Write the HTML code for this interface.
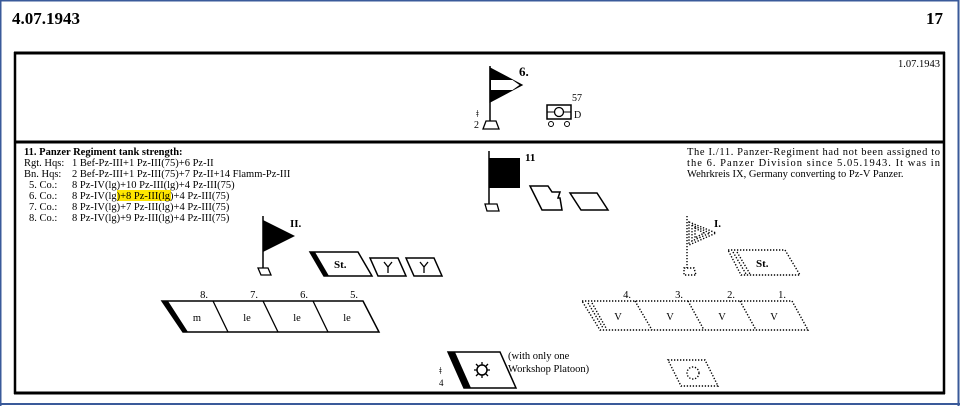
<!DOCTYPE html>
<html><head><meta charset="utf-8"><style>
html,body{margin:0;padding:0;background:#fff;}
svg{display:block;}
text{font-family:"Liberation Serif",serif;fill:#000;}
</style></head><body>
<svg width="960" height="406" viewBox="0 0 960 406" xmlns="http://www.w3.org/2000/svg">
<rect x="0" y="0" width="960" height="406" fill="#fff"/>
<rect x="0.5" y="0.5" width="958" height="420" fill="none" stroke="#3a5a9a" stroke-width="2"/>
<text x="12" y="24" font-size="17" font-weight="bold">4.07.1943</text>
<text x="943" y="24" font-size="17" font-weight="bold" text-anchor="end">17</text>
<!-- box -->
<line x1="14" y1="53" x2="945" y2="53" stroke="#000" stroke-width="3"/>
<line x1="15" y1="52" x2="15" y2="394" stroke="#000" stroke-width="2.5"/>
<line x1="944" y1="52" x2="944" y2="394" stroke="#000" stroke-width="2.5"/>
<line x1="14" y1="142" x2="945" y2="142" stroke="#000" stroke-width="3"/>
<line x1="14" y1="393" x2="945" y2="393" stroke="#000" stroke-width="3"/>
<line x1="0" y1="404" x2="960" y2="404" stroke="#3a5a9a" stroke-width="2"/>
<text x="940" y="67" font-size="10.5" text-anchor="end">1.07.1943</text>
<!-- division flag -->
<line x1="490" y1="66" x2="490" y2="124" stroke="#000" stroke-width="1.5"/>
<polygon points="490,68 522,85 490,102" fill="#000" stroke="#000" stroke-width="1.2"/>
<polygon points="491,80 512.5,80 519.5,85 512.5,90 491,90" fill="#fff"/>
<text x="519" y="76" font-size="13" font-weight="bold">6.</text>
<text x="476" y="117" font-size="11">ǂ</text>
<text x="474" y="128" font-size="10">2</text>
<polygon points="486,121 496,121 499,129 483,129" fill="#fff" stroke="#000" stroke-width="1.3"/>
<rect x="547" y="105" width="24" height="14" fill="none" stroke="#000" stroke-width="1.5"/>
<circle cx="559" cy="112" r="4.5" fill="none" stroke="#000" stroke-width="1.3"/>
<line x1="547" y1="112" x2="554" y2="112" stroke="#000"/><line x1="564" y1="112" x2="571" y2="112" stroke="#000"/>
<circle cx="551" cy="124" r="2.5" fill="none" stroke="#000"/><circle cx="567" cy="124" r="2.5" fill="none" stroke="#000"/>
<text x="572" y="101" font-size="10">57</text>
<text x="574" y="118" font-size="10">D</text>
<!-- left text -->
<g font-size="10.5">
<text x="24" y="155" font-weight="bold">11. Panzer Regiment tank strength:</text>
<text x="24" y="166">Rgt. Hqs:</text><text x="72" y="166">1 Bef-Pz-III+1 Pz-III(75)+6 Pz-II</text>
<text x="24" y="177">Bn. Hqs:</text><text x="72" y="177">2 Bef-Pz-III+1 Pz-III(75)+7 Pz-II+14 Flamm-Pz-III</text>
<text x="29" y="188">5. Co.:</text><text x="72" y="188">8 Pz-IV(lg)+10 Pz-III(lg)+4 Pz-III(75)</text>
<rect x="117" y="190" width="54" height="11" fill="#ffe600"/>
<text x="29" y="199">6. Co.:</text><text x="72" y="199">8 Pz-IV(lg)+8 Pz-III(lg)+4 Pz-III(75)</text>
<text x="29" y="210">7. Co.:</text><text x="72" y="210">8 Pz-IV(lg)+7 Pz-III(lg)+4 Pz-III(75)</text>
<text x="29" y="221">8. Co.:</text><text x="72" y="221">8 Pz-IV(lg)+9 Pz-III(lg)+4 Pz-III(75)</text>
</g>
<!-- right text -->
<g font-size="10.5">
<text x="687" y="155" textLength="253" lengthAdjust="spacing">The I./11. Panzer-Regiment had not been assigned to</text>
<text x="687" y="166" textLength="253" lengthAdjust="spacing">the 6. Panzer Division since 5.05.1943. It was in</text>
<text x="687" y="177">Wehrkreis IX, Germany converting to Pz-V Panzer.</text>
</g>
<!-- regiment flag -->
<line x1="489" y1="151" x2="489" y2="206" stroke="#000" stroke-width="1.5"/>
<rect x="489" y="158" width="31" height="30" fill="#000"/>
<text x="525" y="161" font-size="11" font-weight="bold">11</text>
<polygon points="485,204 497,204 499,211 487,211" fill="#fff" stroke="#000" stroke-width="1.3"/>
<polygon points="530,186 548,186 552,192 560,192 558,198 560,198 562,210 542,210" fill="none" stroke="#000" stroke-width="1.5"/>
<polygon points="570,193 597,193 608,210 581,210" fill="none" stroke="#000" stroke-width="1.5"/>
<!-- II. flag -->
<line x1="263" y1="216" x2="263" y2="270" stroke="#000" stroke-width="1.5"/>
<polygon points="263,220 295,236 263,252" fill="#000"/>
<text x="290" y="227" font-size="11" font-weight="bold">II.</text>
<polygon points="258,268 268,268 271,275 261,275" fill="#fff" stroke="#000" stroke-width="1.3"/>
<polygon points="310,252 358,252 372,276 324,276" fill="#fff" stroke="#000" stroke-width="1.5"/>
<polygon points="310,252 315,252 329,276 324,276" fill="#000"/>
<text x="334" y="268" font-size="11" font-weight="bold">St.</text>
<polygon points="370,258 398,258 406,276 378,276" fill="none" stroke="#000" stroke-width="1.5"/>
<polygon points="406,258 434,258 442,276 414,276" fill="none" stroke="#000" stroke-width="1.5"/>
<path d="M384,262 L388,267 L392,262 M388,267 L388,273 M420,262 L424,267 L428,262 M424,267 L424,273" stroke="#000" stroke-width="1.3" fill="none"/>
<!-- company bar -->
<polygon points="162,301 363,301 379,332 183,332" fill="#fff" stroke="#000" stroke-width="1.5"/>
<polygon points="162,301 168,301 188,332 183,332" fill="#000"/>
<path d="M213,301 L228,332 M263,301 L278,332 M313,301 L328,332" stroke="#000" stroke-width="1.3"/>
<g font-size="10.5" text-anchor="middle">
<text x="204" y="298">8.</text><text x="254" y="298">7.</text><text x="304" y="298">6.</text><text x="354" y="298">5.</text>
<text x="197" y="321">m</text><text x="247" y="321">le</text><text x="297" y="321">le</text><text x="347" y="321">le</text>
</g>
<!-- I. dotted -->
<g stroke="#000" stroke-width="1.4" stroke-dasharray="1.3,1.7" fill="none">
<line x1="687" y1="216" x2="687" y2="268"/>
<polygon points="689,222 716,233 689,245"/>
<polygon points="692,225 710,233 692,241"/>
<polygon points="695,228 704,233 695,238"/>
<polygon points="684,268 694,268 696,275 684,275"/>
<polygon points="728,250 785,250 800,275 741,275"/>
<line x1="733" y1="252" x2="746" y2="274"/><line x1="737" y1="252" x2="750" y2="274"/>
<polygon points="582,301 792,301 808,330 600,330"/>
<line x1="588" y1="303" x2="603" y2="328"/><line x1="592" y1="303" x2="606" y2="328"/>
<line x1="635" y1="301" x2="652" y2="330"/><line x1="688" y1="301" x2="704" y2="330"/><line x1="740" y1="301" x2="756" y2="330"/>
<polygon points="668,360 705,360 718,386 681,386"/>
<circle cx="693" cy="373" r="6"/>
</g>
<text x="714" y="227" font-size="11" font-weight="bold">I.</text>
<text x="756" y="267" font-size="11" font-weight="bold">St.</text>
<g font-size="10.5" text-anchor="middle">
<text x="627" y="298">4.</text><text x="679" y="298">3.</text><text x="731" y="298">2.</text><text x="782" y="298">1.</text>
<text x="618" y="320">V</text><text x="670" y="320">V</text><text x="722" y="320">V</text><text x="774" y="320">V</text>
</g>
<!-- workshop -->
<polygon points="448,352 500,352 516,388 464,388" fill="#fff" stroke="#000" stroke-width="1.5"/>
<polygon points="448,352 455,352 471,388 464,388" fill="#000"/>
<circle cx="482" cy="370" r="5" fill="none" stroke="#000" stroke-width="1.5"/>
<path d="M482,362 V365 M482,375 V378 M474,370 H477 M487,370 H490 M476,364 L478,366 M486,374 L488,376 M488,364 L486,366 M476,376 L478,374" stroke="#000" stroke-width="1.3"/>
<text x="439" y="374" font-size="11">ǂ</text>
<text x="439" y="386" font-size="9">4</text>
<text x="508" y="359" font-size="10.5">(with only one</text>
<text x="508" y="372" font-size="10.5">Workshop Platoon)</text>
</svg>
</body></html>
